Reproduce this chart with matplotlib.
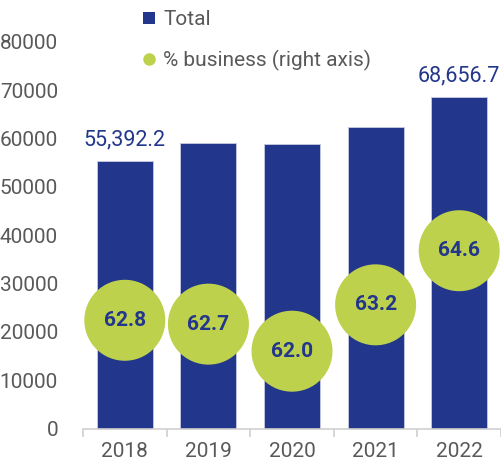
import numpy as np
import matplotlib.pyplot as plt
import matplotlib as mpl
from matplotlib.lines import Line2D
from matplotlib.ticker import FixedLocator, NullFormatter

mpl.rcParams['font.family'] = ['Roboto', 'DejaVu Sans']

years = ['2018', '2019', '2020', '2021', '2022']
total = [55392.2, 59000.0, 58800.0, 62500.0, 68656.7]
business_pct = [62.8, 62.7, 62.0, 63.2, 64.6]
# only first and last bars carry a value label
total_labels = {0: '55,392.2', 4: '68,656.7'}

navy = '#22368b'
green = '#bed14d'
grey = '#595959'

fig = plt.figure(figsize=(5.01, 4.63), dpi=100)
ax = fig.add_axes([0.1657, 0.0745, 0.8343, 0.8348])

x = np.arange(len(years))
ax.bar(x, total, width=0.67, color=navy, edgecolor='#c8cbe3', linewidth=0.6, zorder=2)

for i, txt in total_labels.items():
    ax.text(x[i], total[i] + 4400, txt, ha='center', va='center',
            color=navy, fontsize=15.5)

ax.set_xlim(-0.5, len(years) - 0.5)
ax.set_ylim(0, 80000)
ax.set_yticks(np.arange(0, 80001, 10000))
ax.set_xticks(x)
ax.set_xticklabels(years)
ax.xaxis.set_minor_locator(FixedLocator(np.arange(-0.5, len(years), 1.0)))
ax.xaxis.set_minor_formatter(NullFormatter())
ax.tick_params(axis='x', which='major', length=0, pad=10, labelsize=15, labelcolor=grey)
ax.tick_params(axis='x', which='minor', length=6, width=1.2, color='#d0d0d0')
ax.tick_params(axis='y', length=0, pad=18, labelsize=15, labelcolor=grey)
for s in ['top', 'right', 'left']:
    ax.spines[s].set_visible(False)
ax.spines['bottom'].set_color('#d0d0d0')
ax.spines['bottom'].set_linewidth(1.2)

ax2 = ax.twinx()
ax2.set_ylim(60, 70)
ax2.scatter(x, business_pct, s=3400, color=green, edgecolors='none', zorder=3, clip_on=False)
for xi, v in zip(x, business_pct):
    ax2.text(xi, v, '%.1f' % v, ha='center', va='center', color=navy,
             fontsize=15, fontweight='bold', zorder=4)
ax2.axis('off')

handles = [
    Line2D([], [], marker='s', linestyle='none', markersize=8.6,
           markeredgewidth=0, color=navy),
    Line2D([], [], marker='o', linestyle='none', markersize=9,
           markeredgewidth=0, color=green),
]
fig.legend(handles, ['Total', '% business (right axis)'], loc='upper left',
           bbox_to_anchor=(0.266, 0.996), frameon=False, fontsize=15,
           labelcolor=grey, handlelength=0.7, handletextpad=0.35,
           labelspacing=1.0, borderaxespad=0)

fig.savefig('out.png', dpi=100)
